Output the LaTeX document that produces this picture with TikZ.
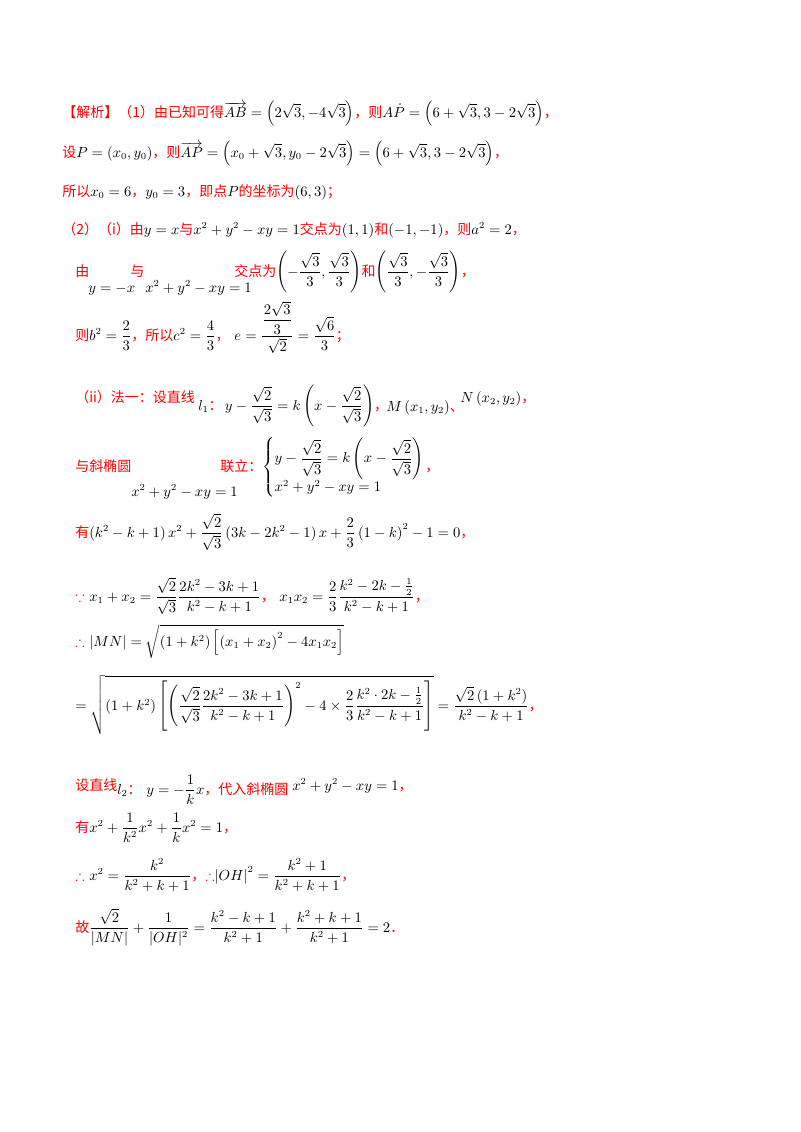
\documentclass[tikz,border=0pt]{standalone}
\usepackage{fontspec}
\usepackage{amsmath,amssymb}
\newfontfamily\cjk{Noto Sans CJK SC}
\newcommand{\zh}[1]{{\cjk\color{red}#1}}
\newcommand{\rs}[1]{\textcolor{red}{$#1$}}
\begin{document}
\begin{tikzpicture}[x=0.75pt,y=-0.75pt,every node/.style={anchor=base west,inner sep=0pt,font=\fontsize{10.5}{12}\selectfont},
txt/.style={}]
\useasboundingbox (0,0) rectangle (800,1132);
\node[txt] (l1) at (62,117) {\zh{【解析】（1）由已知可得}$\overrightarrow{AB}=\left(2\sqrt3,-4\sqrt3\right)$\zh{，则}$A\dot{P}=\left(6+\sqrt3,3-2\sqrt3\right)$\zh{，}};
\node[txt] (l2) at (62,157) {\zh{设}$P=\left(x_0,y_0\right)$\zh{，则}$\overrightarrow{AP}=\left(x_0+\sqrt3,y_0-2\sqrt3\right)=\left(6+\sqrt3,3-2\sqrt3\right)$\zh{，}};
\node[txt] (l3) at (62,196) {\zh{所以}$x_0=6$\zh{，}$y_0=3$\zh{，即点}$P$\zh{的坐标为}$(6,3)$\zh{；}};
\node[txt] (l4) at (62,234) {\zh{（2）（i）由}$y=x$\zh{与}$x^2+y^2-xy=1$\zh{交点为}$(1,1)$\zh{和}$(-1,-1)$\zh{，则}$a^2=2$\zh{，}};
\node[txt] (l5a) at (75,276) {\zh{由}};
\node[txt] (l5b) at (88,292) {$y=-x$};
\node[txt] (l5c) at (130,276) {\zh{与}};
\node[txt] (l5d) at (145,292) {$x^2+y^2-xy=1$};
\node[txt] (l5e) at (234,276) {\zh{交点为}$\left(-\dfrac{\sqrt3}{3},\dfrac{\sqrt3}{3}\right)$\zh{和}$\left(\dfrac{\sqrt3}{3},-\dfrac{\sqrt3}{3}\right)$\zh{，}};
\node[txt] (l6) at (75,340) {\zh{则}$b^2=\dfrac23$\zh{，所以}$c^2=\dfrac43$\zh{，}\ $e=\dfrac{\dfrac{2\sqrt3}{3}}{\sqrt2}=\dfrac{\sqrt6}{3}$\zh{；}};
\node[txt] (l7a) at (75,402) {\zh{（ii）法一：设直线}};
\node[txt] (l7b) at (198,410) {$l_1$\zh{：}\,$y-\dfrac{\sqrt2}{\sqrt3}=k\left(x-\dfrac{\sqrt2}{\sqrt3}\right)$\zh{，}};
\node[txt] (l7c) at (386,411) {$M\left(x_1,y_2\right)$\zh{、}};
\node[txt] (l7d) at (460,402) {$N\left(x_2,y_2\right)$\zh{，}};
\node[txt] (l8a) at (75,471) {\zh{与斜椭圆}};
\node[txt] (l8b) at (131,496) {$x^2+y^2-xy=1$};
\node[txt] (l8c) at (220,471) {\zh{联立：}};
\node[txt] (l8d) at (262,471) {$\left\{\begin{array}{@{}l@{}}y-\dfrac{\sqrt2}{\sqrt3}=k\left(x-\dfrac{\sqrt2}{\sqrt3}\right)\\[4pt] x^2+y^2-xy=1\end{array}\right.$\zh{，}};
\node[txt] (l9) at (75,537) {\zh{有}$\left(k^2-k+1\right)x^2+\dfrac{\sqrt2}{\sqrt3}\left(3k-2k^2-1\right)x+\dfrac23\left(1-k\right)^2-1=0$\zh{，}};
\node[txt] (l10) at (75,601) {\rs{\because}\ $x_1+x_2=\dfrac{\sqrt2}{\sqrt3}\dfrac{2k^2-3k+1}{k^2-k+1}$\zh{，}\ $x_1x_2=\dfrac23\dfrac{k^2-2k-\frac12}{k^2-k+1}$\zh{，}};
\node[txt] (l11) at (75,646) {\rs{\therefore}\ $|MN|=\sqrt{\left(1+k^2\right)\left[\left(x_1+x_2\right)^2-4x_1x_2\right]}$};
\node[txt] (l12) at (75,710) {$=\sqrt{\left(1+k^2\right)\left[\left(\dfrac{\sqrt2}{\sqrt3}\dfrac{2k^2-3k+1}{k^2-k+1}\right)^2-4\times\dfrac23\dfrac{k^2\cdot2k-\frac12}{k^2-k+1}\right]}=\dfrac{\sqrt2\left(1+k^2\right)}{k^2-k+1}$\zh{，}};
\node[txt] (l13a) at (75,790) {\zh{设直线}};
\node[txt] (l13b) at (117,794) {$l_2$\zh{：}\ $y=-\dfrac1k x$\zh{，代入斜椭圆}};
\node[txt] (l13c) at (292,790) {$x^2+y^2-xy=1$\zh{，}};
\node[txt] (l14) at (75,832) {\zh{有}$x^2+\dfrac{1}{k^2}x^2+\dfrac1k x^2=1$\zh{，}};
\node[txt] (l15) at (75,880) {\rs{\therefore}\ $x^2=\dfrac{k^2}{k^2+k+1}$\zh{，}\rs{\therefore}$\left|OH\right|^2=\dfrac{k^2+1}{k^2+k+1}$\zh{，}};
\node[txt] (l16) at (75,932) {\zh{故}$\dfrac{\sqrt2}{|MN|}+\dfrac{1}{|OH|^2}=\dfrac{k^2-k+1}{k^2+1}+\dfrac{k^2+k+1}{k^2+1}=2$\zh{．}};
\end{tikzpicture}
\end{document}
